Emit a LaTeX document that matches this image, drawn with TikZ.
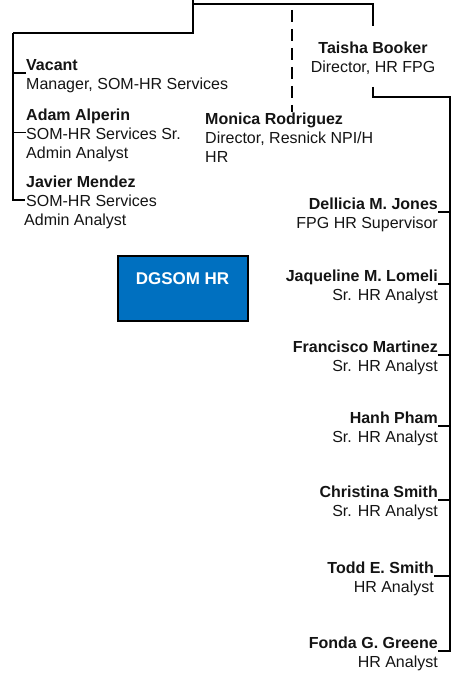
\documentclass[tikz,border=0pt]{standalone}
\usepackage{fontspec}
\setmainfont{Liberation Sans}
\definecolor{dgblue}{RGB}{0,112,192}
\definecolor{inkgray}{RGB}{20,20,20}
\newcommand\nm[1]{\rule{0pt}{17pt}\textbf{#1}}

\begin{document}
\begin{tikzpicture}[x=1pt,y=-1pt,
  person/.style={inner sep=0pt,text=inkgray,font=\fontsize{16}{19}\selectfont},
  trunk/.style={line width=2.8pt},
  rail/.style={line width=2pt},
  tick/.style={line width=1.4pt},
  dashline/.style={line width=2pt,dash pattern=on 12pt off 7pt}]
\useasboundingbox (0,0) rectangle (456,676);

% left branch
\node[person,anchor=west,align=left] (vacant) at (26,73) {\nm{Vacant}\\Manager, SOM-HR Services};
\node[person,anchor=west,align=left] (alperin) at (26,132.5) {\nm{Adam Alperin}\\SOM-HR Services Sr.\\Admin Analyst};
\node[person,anchor=west,align=left] (mendez) at (26,200) {\nm{Javier Mendez}\\SOM-HR Services\\\hspace*{-2pt}Admin Analyst};

% middle
\node[person,anchor=west,align=left] (rodriguez) at (205,135) {\nm{Monica Rodriguez}\\Director, Resnick NPI/H\\HR};
\node[person,align=center] (booker) at (373,56) {\nm{Taisha Booker}\\Director, HR FPG};
\node[draw=black,line width=2pt,fill=dgblue,text=white,inner sep=0pt,
  minimum width=130,text height=28pt,text depth=37pt,
  font=\fontsize{17}{20}\selectfont\bfseries] (dgsom) at (182.5,288.5) {DGSOM HR};

% right branch
\node[person,anchor=east,align=right] (jones) at (438,212) {\nm{Dellicia M. Jones}\\FPG HR Supervisor};
\node[person,anchor=east,align=right] (lomeli) at (438,284) {\nm{Jaqueline M. Lomeli}\\Sr. HR Analyst};
\node[person,anchor=east,align=right] (martinez) at (438,355) {\nm{Francisco Martinez}\\Sr. HR Analyst};
\node[person,anchor=east,align=right] (pham) at (438,426) {\nm{Hanh Pham}\\Sr. HR Analyst};
\node[person,anchor=east,align=right] (csmith) at (438,500) {\nm{Christina Smith}\\Sr. HR Analyst};
\node[person,anchor=east,align=right] (tsmith) at (434,576) {\nm{Todd E. Smith}\\HR Analyst};
\node[person,anchor=east,align=right] (greene) at (438,651) {\nm{Fonda G. Greene}\\HR Analyst};

\coordinate (top) at (193,0);
\coordinate (hub) at (193,4);
\coordinate (leftrail) at (13,33);
\coordinate (bookerin) at (373,26);
\coordinate (bookerout) at (373,87);
\coordinate (rightrail) at (450,97);
\coordinate (dashA) at (292,10);
\coordinate (dashB) at (292,112);

% connectors
\draw[trunk] (top) |- (leftrail);
\draw[trunk] (hub) -| (bookerin);
\draw[rail] (leftrail) |- ([xshift=-1pt]mendez.west);
\draw[tick] (vacant.west) -- (vacant.west -| leftrail);
\draw[tick] (alperin.west) -- (alperin.west -| leftrail);
\draw[dashline] (dashA) -- (dashB);
\draw[trunk] (bookerout) |- (rightrail) |- (greene.east);
\draw[tick] (jones.east) -- (jones.east -| rightrail);
\draw[tick] (lomeli.east) -- (lomeli.east -| rightrail);
\draw[tick] (martinez.east) -- (martinez.east -| rightrail);
\draw[tick] (pham.east) -- (pham.east -| rightrail);
\draw[tick] (csmith.east) -- (csmith.east -| rightrail);
\draw[tick] (tsmith.east) -- (tsmith.east -| rightrail);
\end{tikzpicture}
\end{document}
